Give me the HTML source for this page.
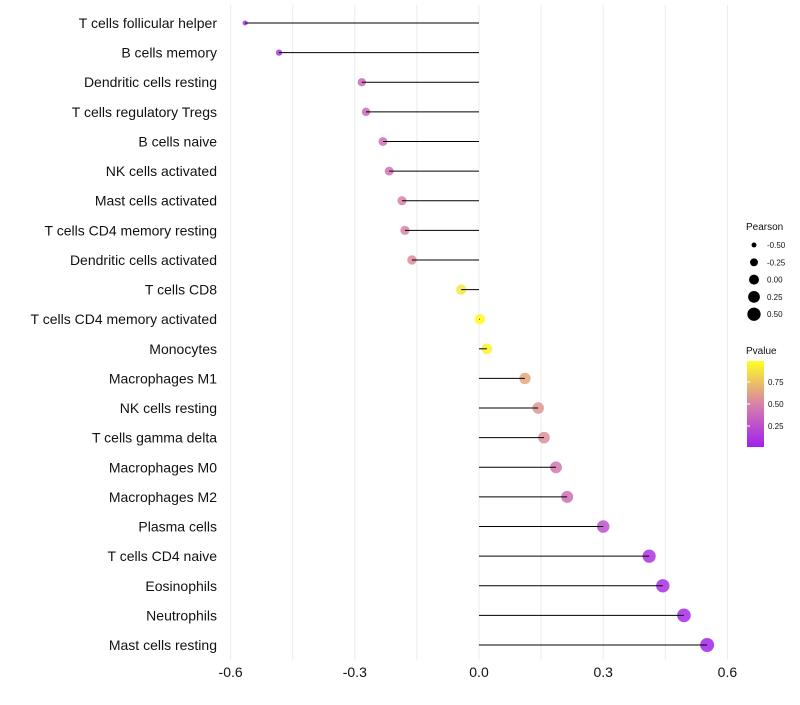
<!DOCTYPE html>
<html><head><meta charset="utf-8"><style>
body{margin:0;background:#fff;}
svg{font-family:"Liberation Sans",sans-serif;}
</style></head><body>
<svg id="c" width="800" height="700">
<defs><linearGradient id="pg" x1="0" y1="1" x2="0" y2="0">
<stop offset="0" stop-color="#a020f0"/><stop offset="0.5" stop-color="#d882a8"/><stop offset="1" stop-color="#ffff20"/></linearGradient></defs>
</svg>
<script>
const categories=["T cells follicular helper","B cells memory","Dendritic cells resting","T cells regulatory  Tregs ","B cells naive","NK cells activated","Mast cells activated","T cells CD4 memory resting","Dendritic cells activated","T cells CD8","T cells CD4 memory activated","Monocytes","Macrophages M1","NK cells resting","T cells gamma delta","Macrophages M0","Macrophages M2","Plasma cells","T cells CD4 naive","Eosinophils","Neutrophils","Mast cells resting"];
const pearson=[-0.565,-0.483,-0.283,-0.273,-0.232,-0.217,-0.186,-0.179,-0.162,-0.043,0.002,0.019,0.111,0.143,0.157,0.186,0.213,0.300,0.411,0.444,0.495,0.551];
const pvalue=[0.08,0.1,0.36,0.36,0.4,0.42,0.5,0.5,0.54,0.9,0.99,0.95,0.65,0.58,0.55,0.45,0.4,0.25,0.1,0.08,0.05,0.03];
const xTicks=[-0.6,-0.3,0,0.3,0.6];
const xTickLabels=["-0.6","-0.3","0.0","0.3","0.6"];
const sizeLegend=[-0.5,-0.25,0,0.25,0.5];
const pTicks=[0.25,0.5,0.75];

const svg=document.getElementById('c');const NS='http://www.w3.org/2000/svg';
function el(t,a,p){const e=document.createElementNS(NS,t);for(const k in a)e.setAttribute(k,a[k]);(p||svg).appendChild(e);return e;}
const x=v=>479+v*414;
const y=i=>23+i*(622/21);
const r=v=>Math.sqrt(Math.max(2.25,28+38*v));
const rl=v=>Math.sqrt(Math.max(2.25,25+38*v));
function lerp(a,b,t){return a.map((c,i)=>Math.round(c+(b[i]-c)*t));}
function col(p){const s=[[160,32,240],[216,130,168],[255,255,32]];const c=p<0.5?lerp(s[0],s[1],p/0.5):lerp(s[1],s[2],(p-0.5)/0.5);return `rgb(${c})`;}
for(let v=-0.6;v<=0.61;v+=0.15){const g=el('line',{x1:x(v),x2:x(v),y1:5,y2:660,stroke:'#ebebeb','stroke-width':1});

}
xTicks.forEach((v,i)=>{const t=el('text',{x:x(v),y:677,'text-anchor':'middle','font-size':14,fill:'#111'});t.textContent=xTickLabels[i];

});
categories.forEach((c,i)=>{
const t=el('text',{x:217,y:y(i)+5,'text-anchor':'end','font-size':14,fill:'#111'});t.textContent=c;


const d=el('circle',{cx:x(pearson[i]),cy:y(i),r:r(pearson[i]),fill:col(pvalue[i]),'fill-opacity':0.85});


const l=el('line',{x1:x(0),x2:x(pearson[i]),y1:y(i),y2:y(i),stroke:'#000','stroke-width':1});


});
const lt=el('text',{x:746,y:230,'font-size':10,fill:'#111'});lt.textContent='Pearson';


sizeLegend.forEach((v,i)=>{const yy=245+i*17.3;
const c=el('circle',{cx:754,cy:yy,r:rl(v),fill:'#000'});


const t=el('text',{x:767,y:yy+3,'font-size':8,fill:'#111'});t.textContent=v.toFixed(2);

});
const pt=el('text',{x:746,y:354,'font-size':10,fill:'#111'});pt.textContent='Pvalue';


const bar=el('rect',{x:747,y:361,width:17,height:86,fill:'url(#pg)'});


pTicks.forEach(p=>{const yy=448-p*88;
const k=el('line',{x1:747,x2:750,y1:yy,y2:yy,stroke:'#fff'});


const t=el('text',{x:768,y:yy+3,'font-size':8,fill:'#111'});t.textContent=p.toFixed(2);

});
</script>
</body></html>
